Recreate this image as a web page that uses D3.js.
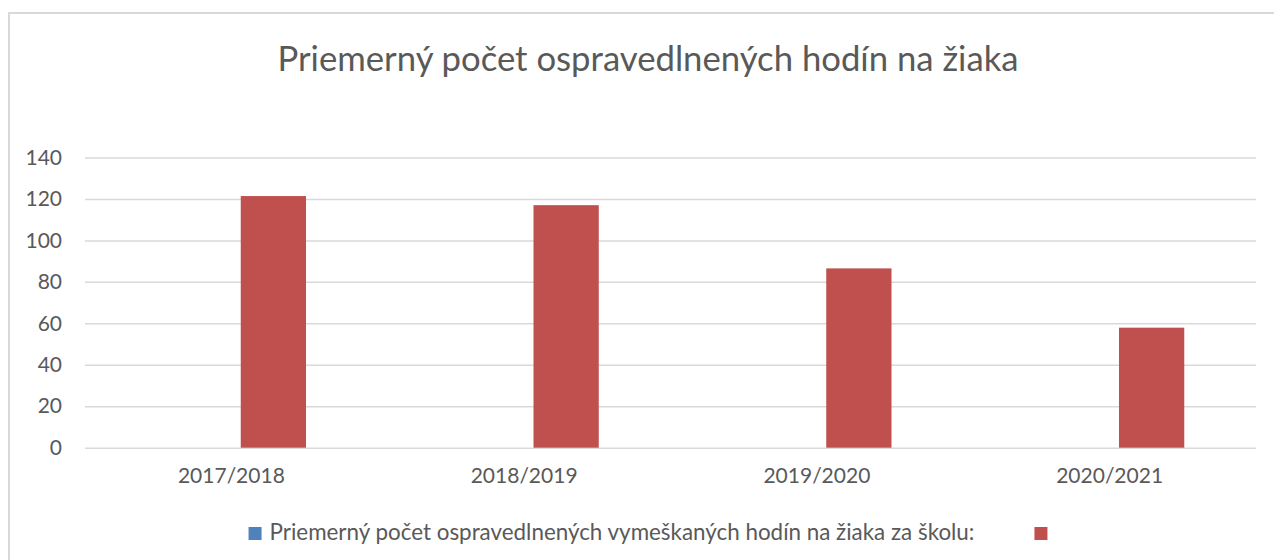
<!DOCTYPE html>
<html>
<head>
<meta charset="utf-8">
<script src="https://cdn.jsdelivr.net/npm/d3@7"></script>
<style>
  body { margin: 0; background: #fff; }
  svg text { font-family: Lato, "Open Sans", sans-serif; fill: #595959; }
</style>
</head>
<body>
<div id="chart"></div>
<script>
const categories = ["2017/2018", "2018/2019", "2019/2020", "2020/2021"];
const seriesNames = ["Priemerný počet ospravedlnených vymeškaných hodín na žiaka za školu:", ""];
const seriesBlue = [null, null, null, null];
const seriesRed = [121.4, 117, 86.5, 57.9];
const yTicks = [0, 20, 40, 60, 80, 100, 120, 140];
const titleText = "Priemerný počet ospravedlnených hodín na žiaka";

const width = 1274, height = 560;
const colors = ["#4F81BD", "#C0504D"];

const svg = d3.select("#chart").append("svg")
    .attr("width", width)
    .attr("height", height);

// chart border (runs off the right/bottom edge like the source)
svg.append("rect")
    .attr("x", 9).attr("y", 13)
    .attr("width", 1300).attr("height", 600)
    .attr("fill", "none")
    .attr("stroke", "#d9d9d9")
    .attr("stroke-width", 2);

svg.append("text")
    .attr("x", 648)
    .attr("y", 71)
    .attr("text-anchor", "middle")
    .style("font-size", "34.7px")
    .text(titleText);

let plot = {left: 85, right: 1256, top: 157.5, bottom: 447.7};

var x0 = d3.scaleBand()
    .domain(categories)
    .range([plot.left, plot.right])
    .paddingInner(0);

var x1 = d3.scaleBand()
    .domain([0, 1])
    .range([0, x0.bandwidth()])
    .paddingInner(0.223)
    .paddingOuter(0.854);

var y = d3.scaleLinear()
    .domain([0, 140])
    .range([plot.bottom, plot.top]);

// gridlines + y labels
let yaxis = svg.append("g")
    .attr("class", "yaxis")
    .attr("transform", "translate(" + plot.left + ",0)")
    .call(d3.axisLeft(y).tickValues(yTicks).tickSize(-(plot.right - plot.left)).tickPadding(23));
yaxis.select(".domain").remove();
yaxis.selectAll(".tick line").attr("stroke", "#d9d9d9").attr("stroke-width", 1.5);
yaxis.selectAll(".tick text")
    .style("font-size", "21px")
    .attr("fill", "#595959")
    .attr("font-family", "Lato");

// x labels
let xaxis = svg.append("g")
    .attr("class", "xaxis")
    .attr("transform", "translate(0," + plot.bottom + ")")
    .call(d3.axisBottom(x0).tickSize(0).tickPadding(20));
xaxis.select(".domain").remove();
xaxis.selectAll(".tick text")
    .style("font-size", "21px")
    .attr("fill", "#595959")
    .attr("font-family", "Lato");

let series = [seriesBlue, seriesRed];
series.forEach(function (vals, s) {
    svg.selectAll(".bar" + s)
        .data(vals.map((v, i) => ({cat: categories[i], v: v})).filter(d => d.v != null))
        .enter().append("rect")
        .attr("class", "bar" + s)
        .attr("x", d => x0(d.cat) + x1(s))
        .attr("y", d => y(d.v))
        .attr("width", x1.bandwidth())
        .attr("height", d => y(0) - y(d.v))
        .style("fill", colors[s]);
});

// legend
let legend = svg.append("g");
let lx = 0;
seriesNames.forEach(function (name, i) {
    legend.append("rect")
        .attr("x", lx).attr("y", 527)
        .attr("width", 13).attr("height", 13)
        .style("fill", colors[i]);
    let t = legend.append("text")
        .attr("x", lx + 21).attr("y", 540)
        .style("font-size", "22.4px")
        .text(name);
    lx += 21 + t.node().getComputedTextLength() + 60;
});
let lb = legend.node().getBBox();
legend.attr("transform", "translate(" + (648 - lb.width / 2) + ",0)");
</script>
</body>
</html>
